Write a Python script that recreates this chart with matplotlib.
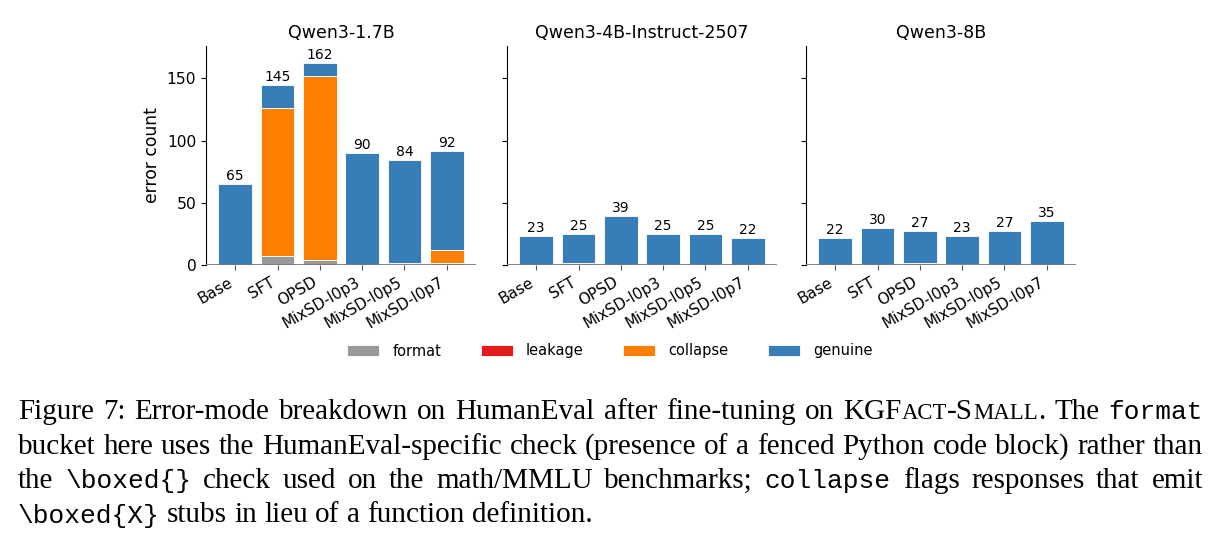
import matplotlib
matplotlib.use('Agg')
import matplotlib.pyplot as plt
import numpy as np

plt.rcParams['font.family'] = ['DejaVu Sans']

# --- Data ---
methods = ['Base', 'SFT', 'OPSD', 'MixSD-l0p3', 'MixSD-l0p5', 'MixSD-l0p7']
model_names = ['Qwen3-1.7B', 'Qwen3-4B-Instruct-2507', 'Qwen3-8B']
modes = ['format', 'leakage', 'collapse', 'genuine']

format_17b = [0, 7, 4, 0, 1, 2]
leakage_17b = [0, 0, 0, 0, 0, 0]
collapse_17b = [0, 119, 148, 0, 1, 10]
genuine_17b = [65, 19, 10, 90, 82, 80]

format_4b = [0, 2, 0, 0, 0, 0]
leakage_4b = [0, 0, 0, 0, 0, 0]
collapse_4b = [0, 0, 0, 0, 0, 0]
genuine_4b = [23, 23, 39, 25, 25, 22]

format_8b = [0, 0, 0, 0, 0, 0]
leakage_8b = [0, 0, 0, 0, 0, 0]
collapse_8b = [0, 0, 2, 1, 0, 0]
genuine_8b = [22, 30, 25, 22, 27, 35]

panel_data = [
    [format_17b, leakage_17b, collapse_17b, genuine_17b],
    [format_4b, leakage_4b, collapse_4b, genuine_4b],
    [format_8b, leakage_8b, collapse_8b, genuine_8b],
]
mode_colors = ['#999999', '#e41a1c', '#ff7f00', '#377eb8']

# --- Figure ---
W, H = 1221, 541
fig = plt.figure(figsize=(W / 100, H / 100), dpi=100)

lefts = [206, 507, 806]
ax_w, ax_bottom, ax_top = 270, 265, 46
axes = []
for i, left in enumerate(lefts):
    ax = fig.add_axes([left / W, 1 - ax_bottom / H, ax_w / W, (ax_bottom - ax_top) / H])
    axes.append(ax)
    x = np.arange(len(methods))
    bottom = np.zeros(len(methods))
    for vals, col, lab in zip(panel_data[i], mode_colors, modes):
        vals = np.array(vals, dtype=float)
        ax.bar(x, vals, bottom=bottom, width=0.8, color=col, label=lab,
               edgecolor='white', linewidth=0.6)
        bottom += vals
    # total error count above each stacked bar
    for xi, tot in zip(x, bottom):
        ax.text(xi, tot + 0.8, f'{int(tot)}', ha='center', va='bottom', fontsize=10)

    ax.set_ylim(0, 176)
    ax.set_yticks([0, 50, 100, 150])
    ax.set_xticks(x)
    ax.set_xticklabels(methods, rotation=30, ha='right', fontsize=11)
    ax.tick_params(axis='y', labelsize=11.2)
    ax.tick_params(axis='x', color='#555555')
    if i > 0:
        ax.tick_params(axis='y', labelleft=False)
    ax.spines['top'].set_visible(False)
    ax.spines['right'].set_visible(False)
    ax.spines['bottom'].set_visible(False)
    ax.axhline(0, color='#777777', linewidth=1.3, zorder=3)
    ax.set_title(model_names[i], fontsize=12.5)

axes[0].set_ylabel('error count', fontsize=12.3)

handles, labels = axes[0].get_legend_handles_labels()
fig.legend(handles, labels, loc='center', bbox_to_anchor=(610 / W, 1 - 351 / H),
           ncol=4, frameon=False, fontsize=10.5, handlelength=2.2,
           handleheight=0.7, handletextpad=0.9, columnspacing=2.7)

# --- Caption (serif text with typewriter and small-caps pieces) ---
cap_lines = [
    [[('Figure', 'rm')], [('7:', 'rm')], [('Error-mode', 'rm')], [('breakdown', 'rm')],
     [('on', 'rm')], [('HumanEval', 'rm')], [('after', 'rm')], [('fine-tuning', 'rm')],
     [('on', 'rm')], [('KGF', 'rm'), ('ACT', 'sc'), ('-S', 'rm'), ('MALL', 'sc'), ('.', 'rm')],
     [('The', 'rm')], [('format', 'tt')]],
    [[(w, 'rm')] for w in 'bucket here uses the HumanEval-specific check (presence of a '
                          'fenced Python code block) rather than'.split()],
    [[('the', 'rm')], [('\\boxed{}', 'tt')], [('check', 'rm')], [('used', 'rm')], [('on', 'rm')],
     [('the', 'rm')], [('math/MMLU', 'rm')], [('benchmarks;', 'rm')], [('collapse', 'tt')],
     [('flags', 'rm')], [('responses', 'rm')], [('that', 'rm')], [('emit', 'rm')]],
    [[('\\boxed{X}', 'tt')]] + [[(w, 'rm')] for w in 'stubs in lieu of a function definition.'.split()],
]
justify = [True, True, True, False]
baselines = [419, 453.5, 488, 522.5]
cap_left, cap_right = 18, 1203

renderer = fig.canvas.get_renderer()


def seg_props(kind, size):
    if kind == 'tt':
        return dict(family='Liberation Mono', fontsize=size * 0.9)
    if kind == 'sc':
        return dict(family='Liberation Serif', fontsize=size * 0.78)
    return dict(family='Liberation Serif', fontsize=size)


def seg_width(text, kind, size):
    t = fig.text(0, 0, text, **seg_props(kind, size))
    w = t.get_window_extent(renderer).width
    t.remove()
    return w


def word_width(word, size):
    return sum(seg_width(s, k, size) for s, k in word)


size = 22.0
while size > 8:
    space = seg_width('a a', 'rm', size) - 2 * seg_width('a', 'rm', size)
    fits = all(sum(word_width(wd, size) for wd in ln) + space * (len(ln) - 1) <= cap_right - cap_left
               for ln, j in zip(cap_lines, justify) if j)
    if fits:
        break
    size -= 0.25

space = seg_width('a a', 'rm', size) - 2 * seg_width('a', 'rm', size)
for ln, j, yb in zip(cap_lines, justify, baselines):
    widths = [word_width(wd, size) for wd in ln]
    gap = (cap_right - cap_left - sum(widths)) / (len(ln) - 1) if j else space
    xpos = cap_left
    for wd, ww in zip(ln, widths):
        xx = xpos
        for s, k in wd:
            fig.text(xx / W, 1 - yb / H, s, va='baseline', ha='left', **seg_props(k, size))
            xx += seg_width(s, k, size)
        xpos += ww + gap

fig.savefig('out.png', dpi=100)
